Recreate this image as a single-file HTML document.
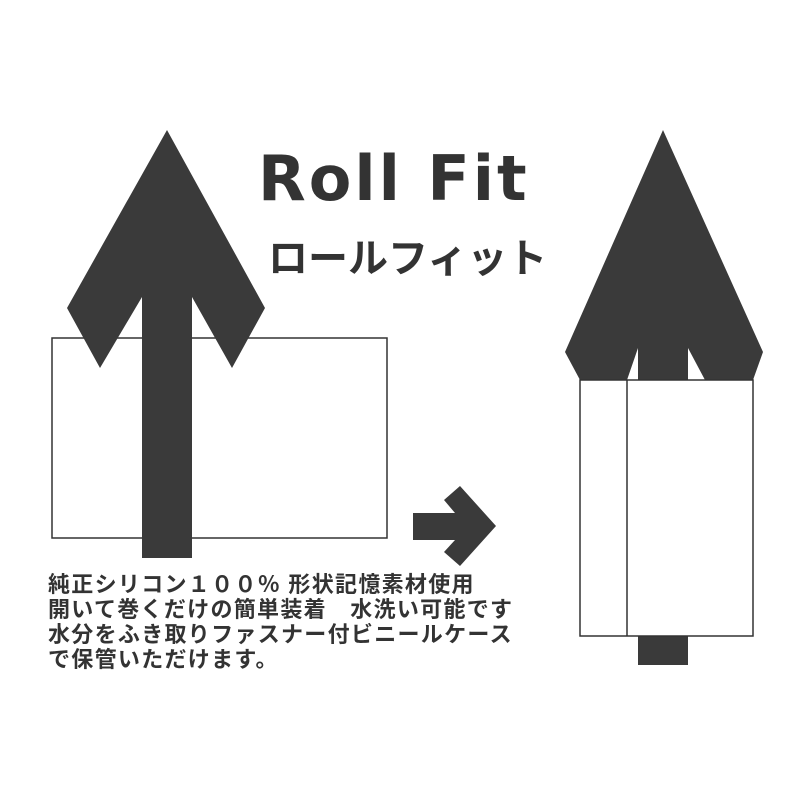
<!DOCTYPE html>
<html><head><meta charset="utf-8"><style>
body{margin:0;width:800px;height:800px;background:#fff;overflow:hidden;position:relative;font-family:"Liberation Sans","Noto Sans CJK JP",sans-serif}
.t{position:absolute;color:#333;white-space:nowrap}
</style></head><body>
<svg width="800" height="800" style="position:absolute;left:0;top:0">
<rect x="52" y="338" width="335" height="200" fill="none" stroke="#333" stroke-width="1.5"/>
<polygon fill="#3a3a3a" points="167,130 265,308 232,368 192,297 192,558 142,558 142,297 100,368 67,308"/>
<polygon fill="#3a3a3a" points="663,130 763,352 753,380 705,380 688,348 688,380 638,380 638,348 627,380 580,380 565,352"/>
<rect x="638" y="636" width="50" height="29" fill="#3a3a3a"/>
<rect x="580" y="380" width="173" height="256" fill="#fff" stroke="#333" stroke-width="1.5"/>
<line x1="627" y1="380" x2="627" y2="636" stroke="#333" stroke-width="1.5"/>
<polygon fill="#3a3a3a" points="413,513 455,513 444,500 460,486 496,526 460,566 444,552 455,540 413,540"/>
</svg>
<div class="t" style="left:258px;top:142px;font-size:62px;font-weight:bold;letter-spacing:3px;font-family:'DejaVu Sans',sans-serif">Roll Fit</div>
<div class="t" style="left:268px;top:226px;font-size:40px;font-weight:bold;">ロールフィット</div>
<div class="t" style="left:48px;top:572px;font-size:22px;line-height:25px;font-weight:bold;letter-spacing:1.3px">純正シリコン１００％ 形状記憶素材使用<br>開いて巻くだけの簡単装着　水洗い可能です<br>水分をふき取りファスナー付ビニールケース<br>で保管いただけます。</div>
</body></html>
